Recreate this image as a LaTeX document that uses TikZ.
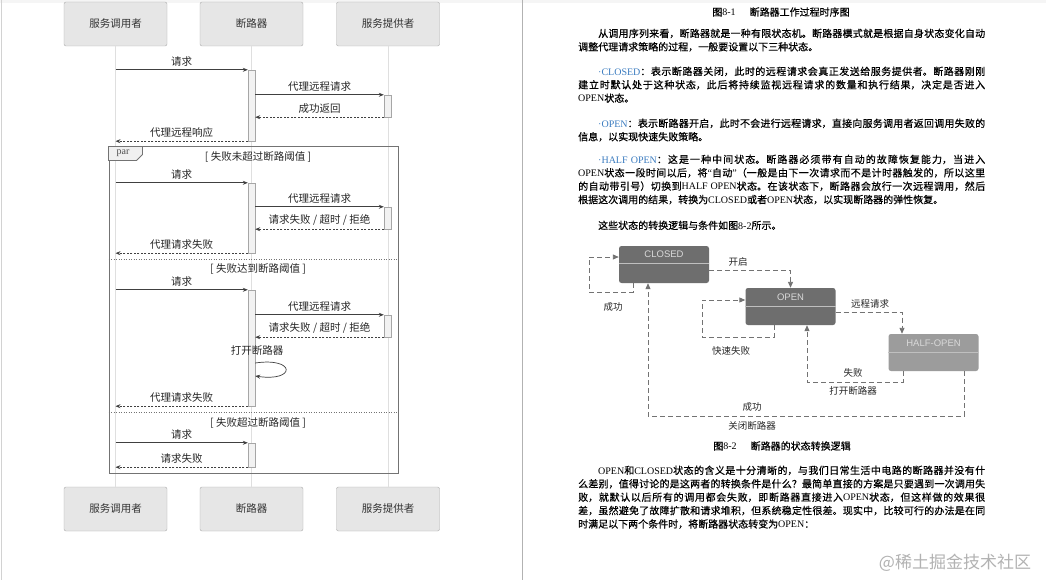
\documentclass[tikz,border=0pt]{standalone}
\usepackage{fontspec}
\setmainfont{Liberation Serif}
\setsansfont{Liberation Sans}
\newfontfamily\cjk{Noto Sans CJK SC}
\newfontfamily\cjkbody[FakeBold=0.5]{Noto Sans CJK SC}
\usetikzlibrary{arrows.meta,positioning}
\definecolor{boxgray}{HTML}{E6E6E6}
\definecolor{stdark}{HTML}{6E6E6E}
\definecolor{sthalf}{HTML}{9C9C9C}
\definecolor{itemblue}{HTML}{3B7CC0}
\XeTeXlinebreaklocale "zh"
\XeTeXlinebreakskip=0pt plus 2pt
\newcommand{\lat}[1]{{\rmfamily #1}}

\begin{document}
\begin{tikzpicture}[x=1pt,y=-1pt,
  actor/.style={draw=gray!65,fill=boxgray,rounded corners=2pt,minimum width=103pt,minimum height=44pt,inner sep=0pt,font=\cjk\fontsize{10.5}{12}\selectfont,text=black!80},
  life/.style={draw=gray!25,line width=1pt},
  actbar/.style={draw=gray!70,fill=gray!10,minimum width=7pt,inner sep=0pt},
  msg/.style={draw=black!75,line width=0.7pt,-{Stealth[length=5pt,width=4pt]}},
  ret/.style={msg,dash pattern=on 2pt off 1.5pt},
  lbl/.style={font=\cjk\fontsize{10.5}{12}\selectfont,text=black!85,inner sep=1pt},
  state/.style={fill=stdark,rounded corners=2.5pt,minimum width=90pt,minimum height=37pt,inner sep=0pt},
  stname/.style={font=\sffamily\fontsize{9.5}{10}\selectfont,text=white!85!black,inner sep=0pt},
  divider/.style={draw=white!75!black,line width=0.9pt},
  trans/.style={draw=black!55,line width=0.9pt,dash pattern=on 5pt off 3pt,-{Triangle[length=6pt,width=5pt]}},
  tlbl/.style={font=\cjk\fontsize{9.5}{11}\selectfont,text=black!85,inner sep=0pt},
  figcap/.style={font=\cjkbody\fontsize{10}{12}\selectfont,inner sep=0pt},
  para/.style={anchor=north west,inner sep=0pt,text width=407pt,align=justify,font=\cjkbody\fontsize{10}{13.4}\selectfont}]
\useasboundingbox (0,0) rectangle (1046,580);
\fill[white] (0,0) rectangle (1046,580);
\fill[gray!8] (0,0) rectangle (1046,3);
\draw[gray!35,line width=1pt] (1,0) -- (1,580);
\draw[gray!60,line width=1pt] (522,0) -- (522,580);

% sequence diagram
\node[actor] (caller) at (115.5,24) {服务调用者};
\node[actor] (breaker) at (251.5,24) {断路器};
\node[actor] (provider) at (388,24) {服务提供者};
\node[actor] (caller-b) at (115.5,509) {服务调用者};
\node[actor] (breaker-b) at (251.5,509) {断路器};
\node[actor] (provider-b) at (388,509) {服务提供者};
\foreach \a in {caller,breaker,provider}
  \draw[life] (\a.south) -- (\a-b.north);

\node[draw=black!55,line width=1pt,minimum width=289pt,minimum height=326pt,inner sep=0pt] (parframe) at (253.5,310) {};
\draw[black!55,fill=gray!12,line width=0.8pt] (parframe.north west) -- ++(34,0) -- ++(0,8) -- ++(-6,6) -- ++(-28,0) -- cycle;
\node[font=\rmfamily\fontsize{10}{11}\selectfont,text=black!70,inner sep=0pt] (partag) at (123,153) {par};
\draw[black!55,dash pattern=on 1pt off 1.5pt,line width=0.8pt] (parframe.west |- 0,259) -- (parframe.east |- 0,259);
\draw[black!55,dash pattern=on 1pt off 1.5pt,line width=0.8pt] (parframe.west |- 0,412) -- (parframe.east |- 0,412);
\node[lbl] (guard1) at (258,157) {[ 失败未超过断路阈值 ]};
\node[lbl] (guard2) at (258,269) {[ 失败达到断路阈值 ]};
\node[lbl] (guard3) at (258,423) {[ 失败超过断路阈值 ]};

\node[actbar,minimum height=71pt] (a1) at (251.5,105.5) {};
\node[actbar,minimum height=22pt] (p1) at (387.5,106) {};
\node[actbar,minimum height=70pt] (a2) at (251.5,218) {};
\node[actbar,minimum height=22pt] (p2) at (387.5,218) {};
\node[actbar,minimum height=116pt] (a3) at (251.5,348) {};
\node[actbar,minimum height=22pt] (p3) at (387.5,326) {};
\node[actbar,minimum height=24pt] (a4) at (251.5,455) {};

\draw[msg] (caller |- a1.north) -- (a1.north west) node[lbl,midway,above=2pt] (m1) {请求};
\draw[msg] (a1.east |- p1.north) -- (p1.north west) node[lbl,midway,above=2pt] (m2) {代理远程请求};
\draw[ret] (p1.south west) -- (a1.east |- p1.south) node[lbl,midway,above=2pt] (m3) {成功返回};
\draw[ret] (a1.south west) -- (caller |- a1.south) node[lbl,midway,above=2pt] (m4) {代理远程响应};

\draw[msg] (caller |- a2.north) -- (a2.north west) node[lbl,midway,above=2pt] (m5) {请求};
\draw[msg] (a2.east |- p2.north) -- (p2.north west) node[lbl,midway,above=2pt] (m6) {代理远程请求};
\draw[ret] (p2.south west) -- (a2.east |- p2.south) node[lbl,midway,above=2pt] (m7) {请求失败 / 超时 / 拒绝};
\draw[ret] (a2.south west) -- (caller |- a2.south) node[lbl,midway,above=2pt] (m8) {代理请求失败};

\draw[msg] (caller |- a3.north) -- (a3.north west) node[lbl,midway,above=2pt] (m9) {请求};
\draw[msg] (a3.east |- p3.north) -- (p3.north west) node[lbl,midway,above=2pt] (m10) {代理远程请求};
\draw[ret] (p3.south west) -- (a3.east |- p3.south) node[lbl,midway,above=2pt] (m11) {请求失败 / 超时 / 拒绝};
\node[lbl] (m12) at (257,351) {打开断路器};
\draw[msg] (a3.east |- 0,363) .. controls (296,357) and (296,382) .. (a3.east |- 0,376);
\draw[ret] (a3.south west) -- (caller |- a3.south) node[lbl,midway,above=2pt] (m13) {代理请求失败};

\draw[msg] (caller |- a4.north) -- (a4.north west) node[lbl,midway,above=2pt] (m14) {请求};
\draw[ret] (a4.south west) -- (caller |- a4.south) node[lbl,midway,above=2pt] (m15) {请求失败};

% right page text
\node[figcap] (cap1) at (781,12) {图\lat{8-1}\hspace{14pt}断路器工作过程时序图};
\node[para] (txt1) at (578,28.5) {\hspace*{20pt}从调用序列来看，断路器就是一种有限状态机。断路器模式就是根据自身状态变化自动\linebreak 调整代理请求策略的过程，一般要设置以下三种状态。};
\node[para] (txt2) at (578,66.5) {\hspace*{20pt}{\color{itemblue}\lat{·CLOSED}}：表示断路器关闭，此时的远程请求会真正发送给服务提供者。断路器刚刚\linebreak 建立时默认处于这种状态，此后将持续监视远程请求的数量和执行结果，决定是否进入\linebreak \lat{OPEN}状态。};
\node[para] (txt3) at (578,118.5) {\hspace*{20pt}{\color{itemblue}\lat{·OPEN}}：表示断路器开启，此时不会进行远程请求，直接向服务调用者返回调用失败的\linebreak 信息，以实现快速失败策略。};
\node[para] (txt4) at (578,154.5) {\hspace*{20pt}{\color{itemblue}\lat{·HALF OPEN}}：这是一种中间状态。断路器必须带有自动的故障恢复能力，当进入\linebreak \lat{OPEN}状态一段时间以后，将\lat{“}自动\lat{”}（一般是由下一次请求而不是计时器触发的，所以这里\linebreak 的自动带引号）切换到\lat{HALF OPEN}状态。在该状态下，断路器会放行一次远程调用，然后\linebreak 根据这次调用的结果，转换为\lat{CLOSED}或者\lat{OPEN}状态，以实现断路器的弹性恢复。};
\node[para] (txt5) at (578,220.5) {\hspace*{20pt}这些状态的转换逻辑与条件如图\lat{8-2}所示。};

% state diagram
\node[state] (closed) at (664,264.5) {};
\node[state] (open) at (790.5,306.5) {};
\node[state,fill=sthalf] (half) at (933.5,352.5) {};
\draw[divider] (closed.west |- 0,263) -- (closed.east |- 0,263);
\draw[divider] (open.west |- 0,306) -- (open.east |- 0,306);
\draw[divider] (half.west |- 0,352) -- (half.east |- 0,352);
\node[stname] (closedname) at (664,254) {CLOSED};
\node[stname] (openname) at (790.5,297) {OPEN};
\node[stname] (halfname) at (933.5,343) {HALF-OPEN};

\draw[trans] (633,0 |- closed.south) |- (589,292) |- (closed.west |- 0,257);
\node[tlbl] (t1) at (613,307) {成功};
\draw[trans] (closed.east |- 0,270) -| (open.north);
\node[tlbl] (t2) at (738,262) {开启};
\draw[trans] (774,0 |- open.south) |- (702,337) |- (open.west |- 0,300);
\node[tlbl] (t3) at (731,351) {快速失败};
\draw[trans] (open.east |- 0,312) -| (902,0 |- half.north);
\node[tlbl] (t4) at (870,304) {远程请求};
\draw[trans] (903,0 |- half.south) |- (807,382) -- (807,0 |- open.south);
\node[tlbl] (t5) at (853,373) {失败};
\node[tlbl] (t6) at (853,391) {打开断路器};
\draw[trans] (964,0 |- half.south) |- (648,416) -- (648,0 |- closed.south);
\node[tlbl] (t7) at (752,407) {成功};
\node[tlbl] (t8) at (752,426) {关闭断路器};

\node[figcap] (cap2) at (782,446) {图\lat{8-2}\hspace{14pt}断路器的状态转换逻辑};
\node[para] (txt6) at (578,465.5) {\hspace*{20pt}\lat{OPEN}和\lat{CLOSED}状态的含义是十分清晰的，与我们日常生活中电路的断路器并没有什\linebreak 么差别，值得讨论的是这两者的转换条件是什么？最简单直接的方案是只要遇到一次调用失\linebreak 败，就默认以后所有的调用都会失败，即断路器直接进入\lat{OPEN}状态，但这样做的效果很\linebreak 差，虽然避免了故障扩散和请求堆积，但系统稳定性很差。现实中，比较可行的办法是在同\linebreak 时满足以下两个条件时，将断路器状态转变为\lat{OPEN}：};

\node[font=\cjk\fontsize{17}{20}\selectfont,text=black!30,inner sep=0pt] (mark) at (955,563) {@稀土掘金技术社区};
\end{tikzpicture}
\end{document}
